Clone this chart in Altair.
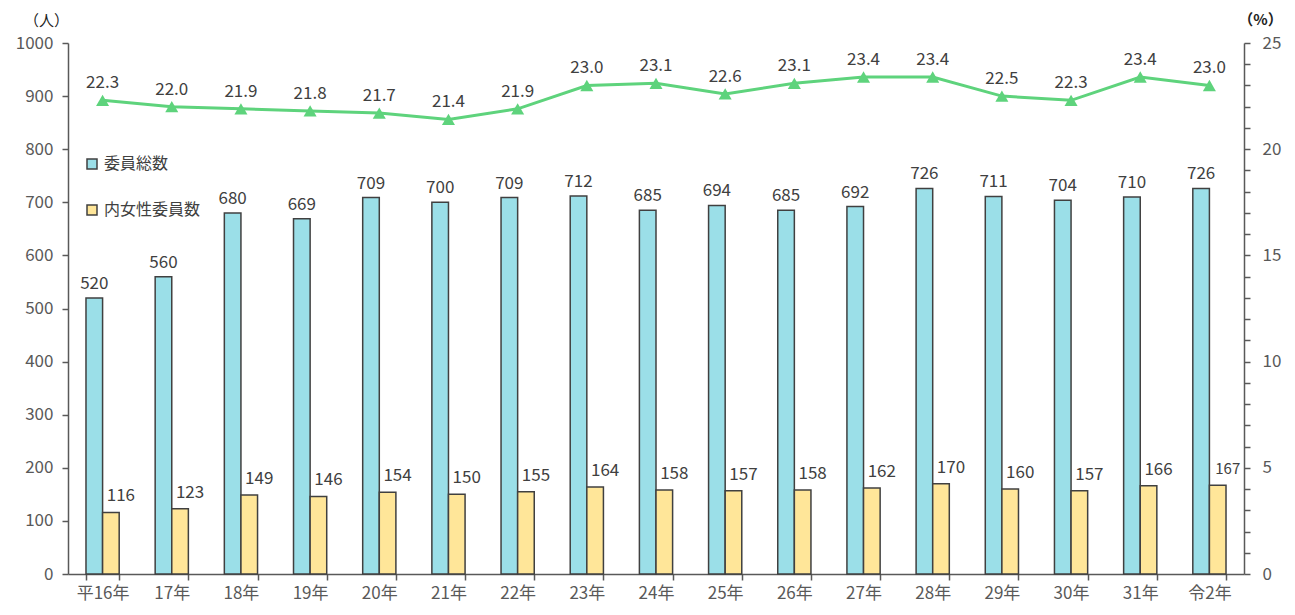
import altair as alt
import pandas as pd

years = ["平16年", "17年", "18年", "19年", "20年", "21年", "22年", "23年", "24年",
         "25年", "26年", "27年", "28年", "29年", "30年", "31年", "令2年"]
total = [520, 560, 680, 669, 709, 700, 709, 712, 685, 694, 685, 692, 726, 711, 704, 710, 726]
women = [116, 123, 149, 146, 154, 150, 155, 164, 158, 157, 158, 162, 170, 160, 157, 166, 167]
pct = [22.3, 22.0, 21.9, 21.8, 21.7, 21.4, 21.9, 23.0, 23.1, 22.6, 23.1, 23.4, 23.4, 22.5, 22.3, 23.4, 23.0]
series_names = ["委員総数", "内女性委員数"]
series_colors = ["#9BDFE8", "#FFE699"]
line_color = "#5ED37C"

rows = []
for yr, t, w in zip(years, total, women):
    rows.append({"year": yr, "series": series_names[0], "value": t})
    rows.append({"year": yr, "series": series_names[1], "value": w})
bars_df = pd.DataFrame(rows)
line_df = pd.DataFrame({"year": years, "pct": pct})

FONT = "Noto Sans CJK JP"
AX = "#595959"
TXT = "#404040"

x_enc = alt.X(
    "year:N", sort=years,
    scale=alt.Scale(paddingInner=0.52, paddingOuter=0.26),
    axis=alt.Axis(title=None, labelAngle=0, tickBand="extent", labelFontSize=17,
                  labelFont=FONT, labelColor=AX, domainColor=AX, domainWidth=1.5,
                  tickColor=AX, tickWidth=1.5, tickSize=6, labelPadding=5, grid=False),
)
xoff = alt.XOffset("series:N", sort=series_names,
                   scale=alt.Scale(domain=series_names, paddingInner=0, paddingOuter=0))
y_left = alt.Y(
    "value:Q", scale=alt.Scale(domain=[0, 1000], nice=False),
    axis=alt.Axis(values=list(range(0, 1001, 100)), format="d", title="（人）", titleAngle=0,
                  titleX=-22, titleY=-23, titleAlign="center", titleBaseline="middle",
                  titleFont=FONT, titleFontSize=15, titleFontWeight="normal", titleColor="#222222",
                  labelFontSize=17, labelFont=FONT, labelColor=AX, domainColor=AX,
                  domainWidth=1.5, tickColor=AX, tickWidth=1.5, tickSize=6, labelPadding=9,
                  grid=False),
)

bars = alt.Chart(bars_df).mark_bar(stroke="#404040", strokeWidth=1.5).encode(
    x=x_enc,
    xOffset=xoff,
    y=y_left,
    color=alt.Color(
        "series:N", sort=series_names,
        scale=alt.Scale(domain=series_names, range=series_colors),
        legend=alt.Legend(title=None, orient="none", legendX=16, legendY=113,
                          symbolType="square", symbolSize=100, symbolStrokeColor="#404040",
                          symbolStrokeWidth=1.5, symbolOpacity=1, labelFont=FONT,
                          labelFontSize=16, labelColor=TXT, rowPadding=30, padding=0,
                          labelOffset=4),
    ),
)

label_total = alt.Chart(bars_df).transform_filter(
    alt.datum.series == series_names[0]
).mark_text(font=FONT, fontSize=17, color=TXT, baseline="alphabetic", dy=-9).encode(
    x=x_enc, xOffset=xoff, y=y_left, text="value:Q"
)
label_women = alt.Chart(bars_df).transform_filter(
    alt.datum.series == series_names[1]
).mark_text(font=FONT, baseline="alphabetic", color=TXT, dy=-11, dx=10).encode(
    x=x_enc, xOffset=xoff, y=y_left, text="value:Q",
    size=alt.condition(alt.datum.year == "令2年", alt.value(15), alt.value(17)),
)

y_right = alt.Y(
    "pct:Q", scale=alt.Scale(domain=[0, 25], nice=False),
    axis=alt.Axis(orient="right", values=list(range(0, 26)),
                  labelExpr="datum.value % 5 == 0 ? datum.label : ''",
                  title="（%）", titleAngle=0, titleX=16, titleY=-24, titleAlign="center",
                  titleBaseline="middle", titleFont=FONT, titleFontSize=15,
                  titleFontWeight="bold", titleColor="#222222",
                  labelFontSize=17, labelFont=FONT, labelColor=AX, domainColor=AX,
                  domainWidth=1.5, tickColor=AX, tickWidth=1.5, tickSize=6, labelPadding=12,
                  grid=False),
)

line = alt.Chart(line_df).mark_line(color=line_color, strokeWidth=3).encode(
    x=x_enc, y=y_right
)
pts = alt.Chart(line_df).mark_point(shape="triangle-up", filled=True, size=170,
                                    color=line_color, opacity=1).encode(
    x=x_enc, y=y_right
)
pct_text = alt.Chart(line_df).mark_text(font=FONT, fontSize=17, color=TXT,
                                        baseline="alphabetic", dy=-12).encode(
    x=x_enc, y=y_right, text=alt.Text("pct:Q", format=".1f")
)

left = alt.layer(bars, label_total, label_women)
right = alt.layer(line, pts, pct_text)

chart = alt.layer(left, right).resolve_scale(y="independent").properties(
    width=1176, height=531,
    autosize=alt.AutoSizeParams(type="none"),
    padding={"left": 60, "top": 35, "right": 40, "bottom": 32},
    background="white",
).configure_view(strokeWidth=0, stroke="transparent")

chart.save("out.html", embed_options={"renderer": "svg", "actions": False})
